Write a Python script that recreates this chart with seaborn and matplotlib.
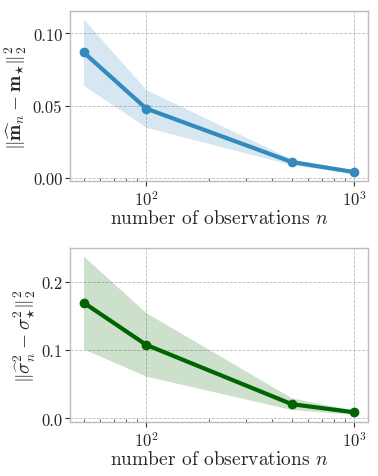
import matplotlib
matplotlib.use("Agg")
import matplotlib.pyplot as plt
import seaborn as sns
import numpy as np
import pandas as pd

n_obs = [50, 100, 500, 1000]
m_err = [0.087, 0.048, 0.011, 0.004]
m_lo = [0.064, 0.035, 0.009, 0.003]
m_hi = [0.110, 0.061, 0.013, 0.005]
s_err = [0.170, 0.108, 0.021, 0.009]
s_lo = [0.102, 0.062, 0.013, 0.006]
s_hi = [0.238, 0.155, 0.030, 0.012]

sns.set_theme(style="white")
plt.rcParams.update({
    "font.family": "serif",
    "font.serif": ["cmr10", "DejaVu Serif"],
    "mathtext.fontset": "cm",
    "axes.formatter.use_mathtext": True,
    "axes.unicode_minus": False,
})

fig = plt.figure(figsize=(3.78, 4.77), dpi=100)
W, H = 378, 477
ax1 = fig.add_axes([70 / W, 1 - 182.3 / H, 298 / W, 170 / H])
ax2 = fig.add_axes([70 / W, 1 - 423.3 / H, 298 / W, 174 / H])

specs = [
    (ax1, m_err, m_lo, m_hi, "#348ABD", r"$\|\widehat{\mathbf{m}}_n - \mathbf{m}_{\star}\|_2^2$", [0.0, 0.05, 0.10], "%.2f"),
    (ax2, s_err, s_lo, s_hi, "#006400", r"$\|\widehat{\sigma}^2_n - \sigma^2_{\star}\|_2^2$", [0.0, 0.1, 0.2], "%.1f"),
]

for ax, y, lo, hi, col, lab, yt, fmt in specs:
    df = pd.DataFrame({"n": n_obs, "err": y})
    ax.fill_between(n_obs, lo, hi, color=col, alpha=0.2, linewidth=0)
    sns.lineplot(data=df, x="n", y="err", ax=ax, color=col, linewidth=3,
                 marker="o", markersize=7, markeredgewidth=0)
    ax.set_xscale("log")
    ax.margins(x=0.05, y=0.05)
    ax.set_yticks(yt)
    ax.yaxis.set_major_formatter(matplotlib.ticker.FormatStrFormatter(fmt))
    ax.set_xlabel(r"number of observations $n$", fontsize=14, labelpad=1)
    ax.set_ylabel(lab, fontsize=14, labelpad=3)
    ax.grid(True, which="major", linestyle="--", color="#bbbbbb", linewidth=0.6)
    for s in ax.spines.values():
        s.set_color("#bcbcbc")
        s.set_linewidth(1.0)
    ax.tick_params(axis="both", which="major", direction="out", length=3.5,
                   width=0.8, color="#333333", labelsize=12, left=True, bottom=True, pad=2)
    ax.tick_params(axis="x", which="minor", direction="in", length=2.5,
                   width=0.6, color="#333333", bottom=True)

fig.savefig("out.png", dpi=100)
